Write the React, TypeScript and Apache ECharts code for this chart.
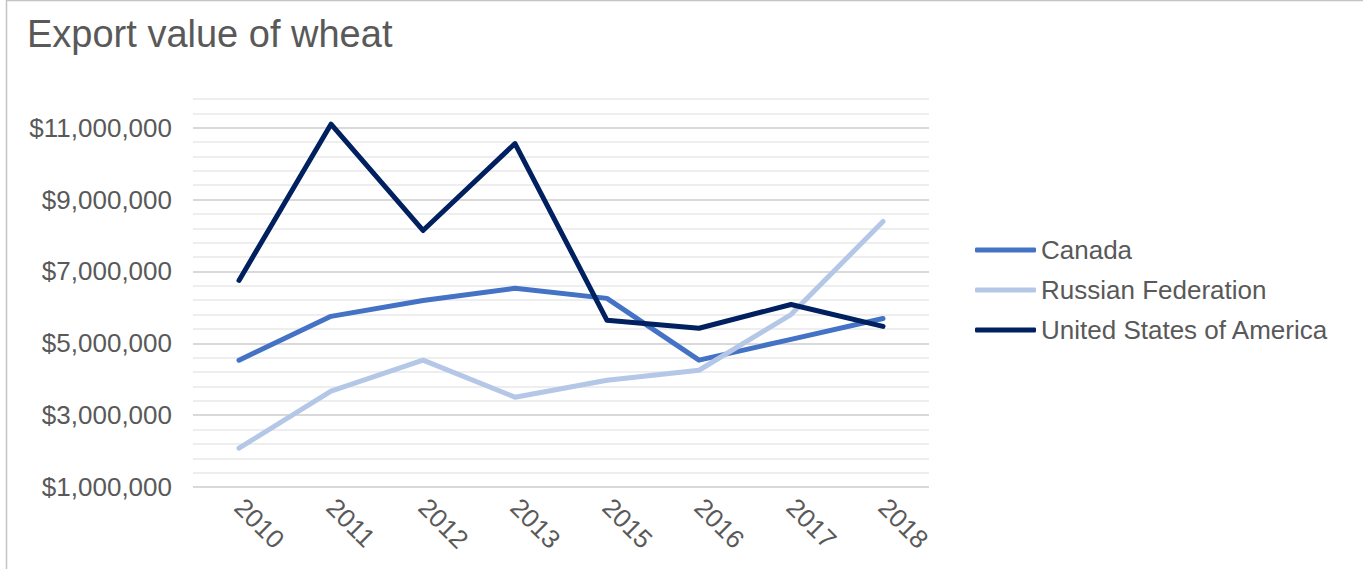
import React, { useEffect, useRef } from "react";
import * as echarts from "echarts";

const years = ["2010", "2011", "2012", "2013", "2015", "2016", "2017", "2018"];
const canada = [4530000, 5750000, 6190000, 6530000, 6250000, 4530000, 5110000, 5690000];
const russia = [2080000, 3670000, 4530000, 3500000, 3970000, 4250000, 5800000, 8390000];
const usa = [6750000, 11100000, 8140000, 10560000, 5640000, 5420000, 6080000, 5470000];
const seriesNames = ["Canada", "Russian Federation", "United States of America"];
const seriesColors = ["#4472C4", "#B4C7E7", "#002060"];

const yMin = 1000000;
const yMax = 11800000;
const majorStep = 2000000;

const FONT = "'Liberation Sans', Arial, Helvetica, sans-serif";

export default function App() {
  const ref = useRef<HTMLDivElement>(null);
  useEffect(() => {
    document.body.style.margin = "0";
    const chart = echarts.init(ref.current!, null, { renderer: "svg" });
    const major = "#d9d9d9";
    const minor = "#eeeeee";
    const t = "rgba(0,0,0,0)";
    const dataSets = [canada, russia, usa];
    chart.setOption({
      animation: false,
      backgroundColor: "#ffffff",
      title: {
        text: "Export value of wheat",
        left: 22,
        top: 10,
        textStyle: { fontFamily: FONT, fontSize: 38, fontWeight: "normal", color: "#595959" },
      },
      graphic: [
        { type: "line", shape: { x1: 6.5, y1: 0, x2: 6.5, y2: 569 }, style: { stroke: "#c4c4c4", lineWidth: 1.5 } },
        { type: "line", shape: { x1: 6, y1: 0.5, x2: 1363, y2: 0.5 }, style: { stroke: "#c4c4c4", lineWidth: 1.5 } },
      ],
      legend: {
        orient: "vertical",
        left: 970,
        top: 232,
        icon: "roundRect",
        itemWidth: 61,
        itemHeight: 5,
        itemGap: 14,
        data: seriesNames,
        textStyle: { fontFamily: FONT, fontSize: 26, color: "#595959" },
      },
      grid: { left: 193, right: 434, top: 99, bottom: 82, containLabel: false },
      xAxis: {
        type: "category",
        data: years,
        boundaryGap: true,
        axisLine: { show: false },
        axisTick: { show: false },
        axisLabel: {
          rotate: -45,
          margin: 16,
          fontFamily: FONT,
          fontSize: 26,
          color: "#595959",
        },
      },
      yAxis: {
        type: "value",
        min: yMin,
        max: yMax,
        interval: 200000,
        axisLine: { show: false },
        axisTick: { show: false },
        axisLabel: {
          margin: 21,
          fontFamily: FONT,
          fontSize: 26,
          color: "#595959",
          formatter: (v: number) =>
            Math.abs((v - yMin) % majorStep) < 1 ? "$" + v.toLocaleString("en-US") : "",
        },
        splitLine: {
          show: true,
          lineStyle: {
            width: 2,
            color: [major, t, minor, t, minor, t, minor, t, minor, t],
          },
        },
      },
      series: seriesNames.map((name, i) => ({
        name,
        type: "line",
        data: dataSets[i],
        symbol: "none",
        lineStyle: { width: 5, color: seriesColors[i], cap: "round", join: "round" },
        itemStyle: { color: seriesColors[i] },
      })),
    });
    return () => chart.dispose();
  }, []);
  return <div ref={ref} style={{ width: 1363, height: 569 }} />;
}
